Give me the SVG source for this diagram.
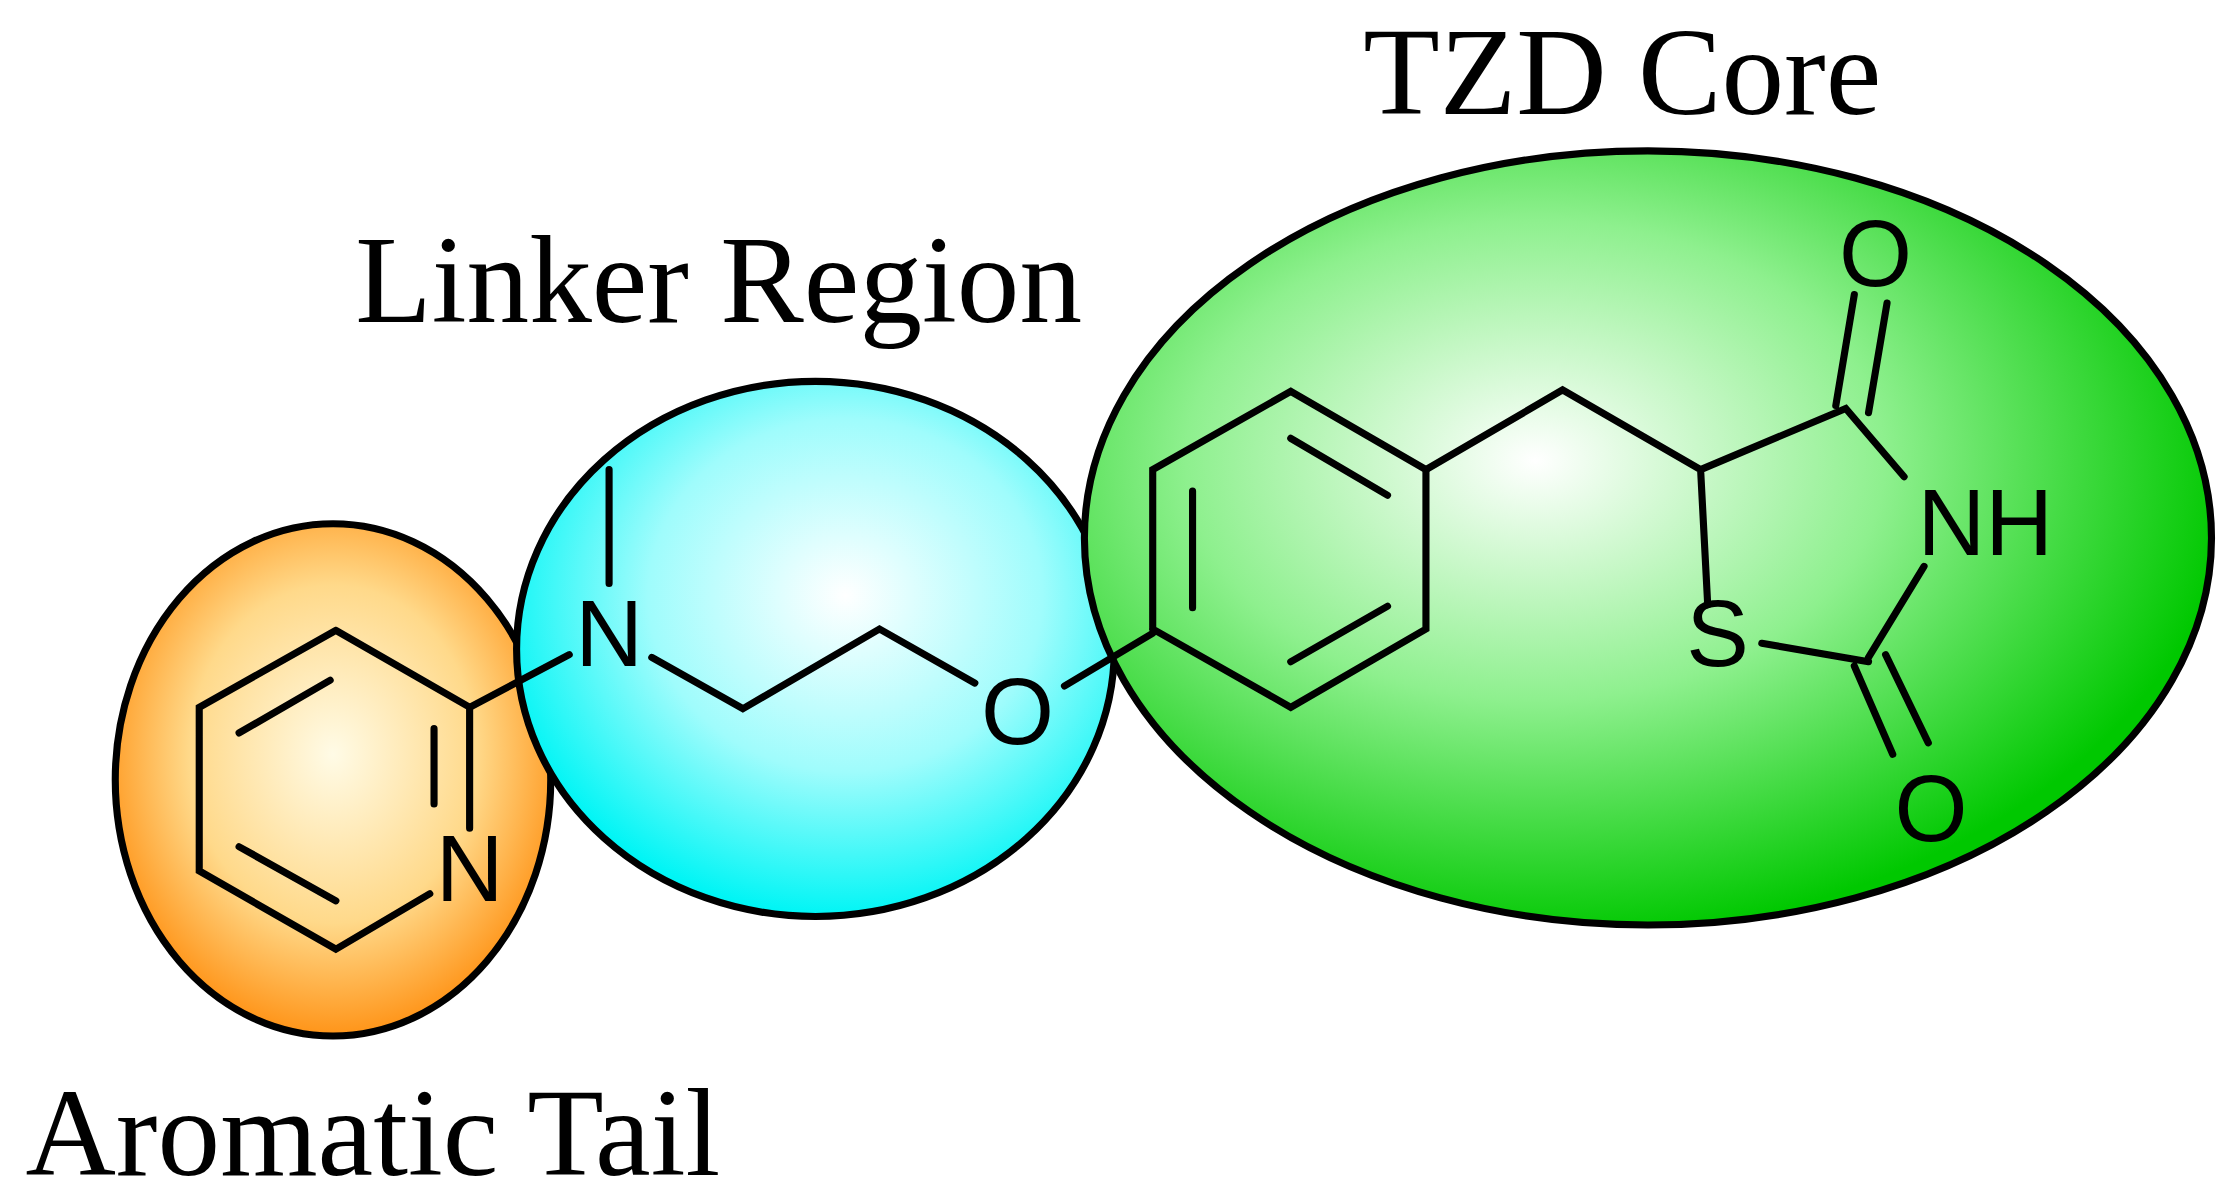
<svg xmlns="http://www.w3.org/2000/svg" width="2220" height="1199" viewBox="0 0 2220 1199">
<style>
.b{stroke:#000;stroke-width:5;fill:none;stroke-linecap:round}
.e{stroke:#000;stroke-width:5}
.a{font-family:"Liberation Sans",Arial,sans-serif;font-size:66px;fill:#000;text-anchor:middle;dominant-baseline:central}
.t{font-family:"Liberation Serif","Times New Roman",serif;font-size:88px;fill:#000;text-anchor:middle}
</style>
<defs>
<radialGradient id="go" cx="0.5" cy="0.45" r="0.55"><stop offset="0" stop-color="#fffbe6"/><stop offset="0.6" stop-color="#ffd98a"/><stop offset="1" stop-color="#ff9418"/></radialGradient>
<radialGradient id="gc" cx="0.55" cy="0.4" r="0.6"><stop offset="0" stop-color="#ffffff"/><stop offset="0.55" stop-color="#9ffcfc"/><stop offset="1" stop-color="#00f5f5"/></radialGradient>
<radialGradient id="gg" cx="0.4" cy="0.4" r="0.62"><stop offset="0" stop-color="#ffffff"/><stop offset="0.5" stop-color="#8ef08e"/><stop offset="1" stop-color="#00c800"/></radialGradient>
</defs>
<g transform="scale(1.4231)">
<g id="tail"><ellipse class="e" cx="234" cy="548" rx="153" ry="180" fill="url(#go)"/><text class="t" x="262" y="826">Aromatic Tail</text></g>
<g id="linker"><ellipse class="e" cx="573" cy="456" rx="210" ry="188" fill="url(#gc)"/><text class="t" x="505" y="226">Linker Region</text></g>
<g id="core"><ellipse class="e" cx="1158" cy="378" rx="396" ry="272" fill="url(#gg)"/><text class="t" x="1140" y="80">TZD Core</text></g>
<g id="bonds">
<path class="b" d="M236,443L330,497L330,582M302,628L236,667L140,612L140,497L236,443M168,515L232,478M305,512L305,565M168,595L236,633"/>
<path class="b" d="M330,497L400,460M428,330L428,410M458,462L522,498L618,442L685,480M748,482L810,445"/>
<path class="b" d="M810,442L810,330L907,275L1002,330L1002,442L907,497L810,442M907,308L975,348M838,345L838,427M907,465L975,426"/>
<path class="b" d="M1002,330L1098,274L1195,330L1200,425M1195,330L1297,287L1338,335M1290,285L1303,207M1313,290L1326,213M1352,398L1313,462M1238,452L1313,465M1303,468L1330,530M1325,460L1355,522"/>
</g>
<g id="atoms">
<text class="a" x="330" y="610">N</text>
<text class="a" x="428" y="445">N</text>
<text class="a" x="715" y="500">O</text>
<text class="a" x="1207" y="445">S</text>
<text class="a" x="1318" y="178">O</text>
<text class="a" x="1395" y="367">NH</text>
<text class="a" x="1357" y="568">O</text>
</g>
</g>
</svg>
